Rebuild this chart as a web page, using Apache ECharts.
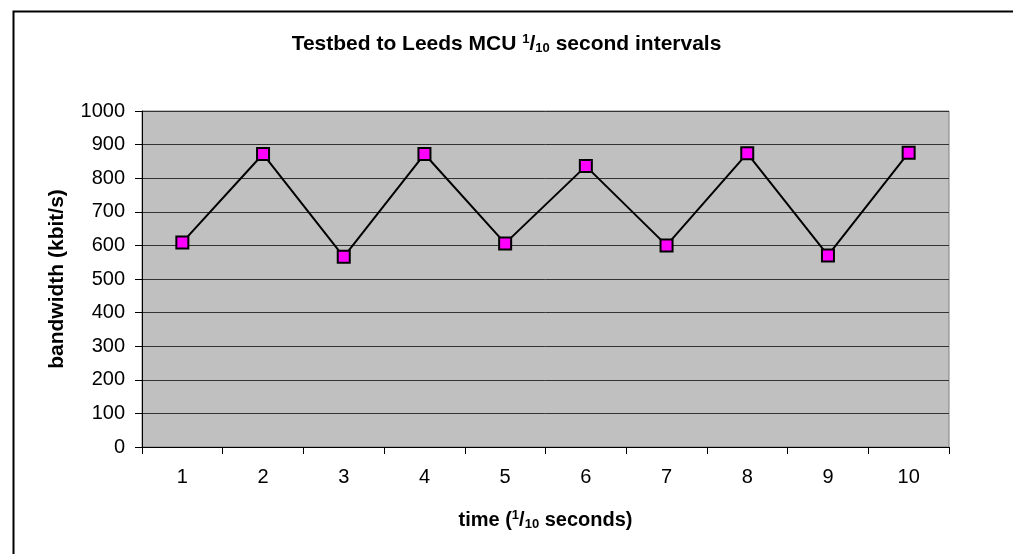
<!DOCTYPE html>
<html>
<head>
<meta charset="utf-8">
<title>Testbed to Leeds MCU</title>
<script src="https://cdn.jsdelivr.net/npm/echarts@6/dist/echarts.min.js"></script>
<style>
  html, body { margin: 0; padding: 0; background: #fff; }
  #chart { width: 1013px; height: 554px; }
</style>
</head>
<body>
<div id="chart"></div>
<script>
// 数据：每 1/10 秒的带宽 (kbit/s)
const timeLabels = ['1', '2', '3', '4', '5', '6', '7', '8', '9', '10'];
const bandwidth = [609, 872, 566, 872, 606, 836, 600, 874, 570, 876];
const yTicks = { min: 0, max: 1000, interval: 100 };

const FONT = '"Liberation Sans", Arial, sans-serif';

// 上标 / 下标 (1/10)
const supSub = {
  sup: { fontFamily: FONT, fontSize: 13, fontWeight: 'bold', color: '#000', verticalAlign: 'top', padding: [0, 0, 9, 0] },
  sub: { fontFamily: FONT, fontSize: 13, fontWeight: 'bold', color: '#000', verticalAlign: 'bottom', padding: [8, 0, 0, 0] }
};

const chart = echarts.init(document.getElementById('chart'));
chart.setOption({
  backgroundColor: '#fff',
  animation: false,
  // 外框
  graphic: [{
    type: 'rect', left: 11, top: 9, silent: true,
    shape: { width: 1100, height: 700 },
    style: { fill: 'none', stroke: '#000', lineWidth: 2 }
  }],
  title: {
    text: 'Testbed to Leeds MCU {sup|1}/{sub|10} second intervals',
    left: 'center', top: 28,
    textStyle: {
      fontFamily: FONT, fontSize: 21, fontWeight: 'bold', color: '#000',
      rich: supSub
    }
  },
  grid: {
    left: 142, top: 111, right: 64, bottom: 107,
    show: true, backgroundColor: '#c0c0c0', borderColor: '#808080', borderWidth: 1
  },
  xAxis: {
    type: 'category', data: timeLabels, boundaryGap: true,
    name: 'time ({sup|1}/{sub|10} seconds)', nameLocation: 'middle', nameGap: 62,
    nameTextStyle: {
      fontFamily: FONT, fontSize: 20, fontWeight: 'bold', color: '#000',
      rich: supSub
    },
    axisLine: { lineStyle: { color: '#000', width: 1 } },
    axisTick: { show: true, length: 7, alignWithLabel: false, lineStyle: { color: '#000' } },
    axisLabel: { fontFamily: FONT, fontSize: 20, color: '#000', margin: 20 },
    splitLine: { show: false }
  },
  yAxis: {
    type: 'value', min: yTicks.min, max: yTicks.max, interval: yTicks.interval,
    name: 'bandwidth (kbit/s)', nameLocation: 'middle', nameGap: 74, nameRotate: 90,
    nameTextStyle: { fontFamily: FONT, fontSize: 21, fontWeight: 'bold', color: '#000' },
    axisLine: { show: true, lineStyle: { color: '#000', width: 1 } },
    axisTick: { show: true, length: 7, lineStyle: { color: '#000' } },
    axisLabel: { fontFamily: FONT, fontSize: 20, color: '#000', margin: 17, formatter: v => String(v) },
    splitLine: { show: true, lineStyle: { color: '#333', width: 1 } }
  },
  series: [{
    type: 'line', data: bandwidth,
    symbol: 'rect', symbolSize: 12,
    lineStyle: { color: '#000', width: 2 },
    itemStyle: { color: '#ff00ff', borderColor: '#000', borderWidth: 2 }
  }]
});
</script>
</body>
</html>
